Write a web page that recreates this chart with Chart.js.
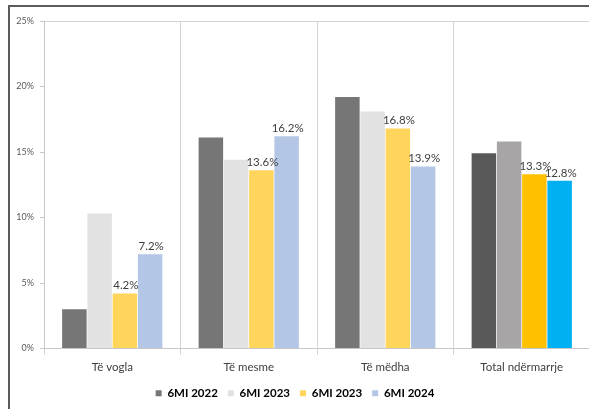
<!DOCTYPE html>
<html>
<head>
<meta charset="utf-8">
<script src="https://cdn.jsdelivr.net/npm/chart.js@4.4.1/dist/chart.umd.min.js"></script>
<style>
  html, body { margin: 0; padding: 0; background: #ffffff; overflow: hidden; }
  #frame { position: absolute; left: 8px; top: 5px; width: 700px; height: 500px;
           border-left: 2px solid #5b5b5b; border-top: 2px solid #5b5b5b; }
  #wrap { position: absolute; left: 0; top: 0; width: 618px; height: 409px; }
</style>
</head>
<body>
<div id="frame"></div>
<div id="wrap"><canvas id="chart" width="618" height="409"></canvas></div>
<script>
// Categories, series and axis ticks
const categories = ['Të vogla', 'Të mesme', 'Të mëdha', 'Total ndërmarrje'];
const seriesNames = ['6MI 2022', '6MI 2023', '6MI 2023', '6MI 2024'];
const v2022  = [3.0, 16.1, 19.2, 14.9];
const v2023a = [10.3, 14.4, 18.1, 15.8];
const v2023b = [4.2, 13.6, 16.8, 13.3];
const v2024  = [7.2, 16.2, 13.9, 12.8];
const yTicks = [0, 5, 10, 15, 20, 25];

// Per-bar colours: the "Total" group uses the stronger palette
const palette = [
  { base: '#767676', total: '#595959' },
  { base: '#e2e2e2', total: '#a8a5a6' },
  { base: '#ffd55c', total: '#ffc000' },
  { base: '#b4c6e6', total: '#00b0f0' }
];
const colorsFor = p => categories.map((c, i) => i === categories.length - 1 ? p.total : p.base);

const seriesValues = [v2022, v2023a, v2023b, v2024];
const labelled = [false, false, true, true];
const FONT = 'Lato, "Liberation Sans", sans-serif';

// Value labels above the bars of the labelled series
const valueLabels = {
  id: 'valueLabels',
  afterDatasetsDraw(chart) {
    const ctx = chart.ctx;
    ctx.save();
    ctx.font = '11.5px ' + FONT;
    ctx.fillStyle = '#404040';
    ctx.textAlign = 'center';
    ctx.textBaseline = 'bottom';
    chart.data.datasets.forEach((ds, i) => {
      if (!labelled[i]) return;
      chart.getDatasetMeta(i).data.forEach((bar, j) => {
        ctx.fillText(ds.data[j].toFixed(1) + '%', bar.x + 1, bar.y - 2);
      });
    });
    ctx.restore();
  }
};

new Chart(document.getElementById('chart'), {
  type: 'bar',
  data: {
    labels: categories,
    datasets: seriesValues.map((vals, i) => ({
      label: seriesNames[i],
      data: vals,
      backgroundColor: colorsFor(palette[i]),
      borderWidth: 0,
      categoryPercentage: 0.74,
      barPercentage: 0.97
    }))
  },
  options: {
    responsive: false,
    devicePixelRatio: 1,
    animation: false,
    layout: { padding: { top: 21, left: 0, right: 28, bottom: 0 } },
    plugins: {
      tooltip: { enabled: false },
      legend: {
        position: 'bottom',
        labels: {
          boxWidth: 6,
          boxHeight: 6,
          padding: 10,
          color: '#404040',
          font: { family: FONT, size: 11.5, weight: 'bold' },
          generateLabels: chart => seriesNames.map((name, i) => ({
            text: name,
            fillStyle: palette[i].base,
            strokeStyle: palette[i].base,
            lineWidth: 0,
            hidden: false,
            datasetIndex: i
          }))
        }
      }
    },
    scales: {
      x: {
        offset: true,
        grid: { offset: true, color: '#d4d4d4', lineWidth: 1, tickLength: 6, tickColor: '#d4d4d4' },
        border: { display: true, color: '#c8c8c8' },
        ticks: {
          color: '#404040', padding: 6,
          font: { family: FONT, size: 11.5 }
        },
        afterFit: s => { s.height = 29; }
      },
      y: {
        min: 0, max: 25,
        afterBuildTicks: s => { s.ticks = yTicks.map(v => ({ value: v })); },
        grid: {
          color: ctx => (ctx.tick && ctx.tick.value === 25) ? '#d4d4d4' : 'rgba(0,0,0,0)',
          tickColor: '#c8c8c8', tickLength: 4, lineWidth: 1
        },
        border: { display: true, color: '#c8c8c8' },
        ticks: {
          color: '#595959', padding: 6,
          font: { family: FONT, size: 9 },
          callback: v => v + '%'
        },
        afterFit: s => { s.width = 44; }
      }
    }
  },
  plugins: [valueLabels]
});
</script>
</body>
</html>
